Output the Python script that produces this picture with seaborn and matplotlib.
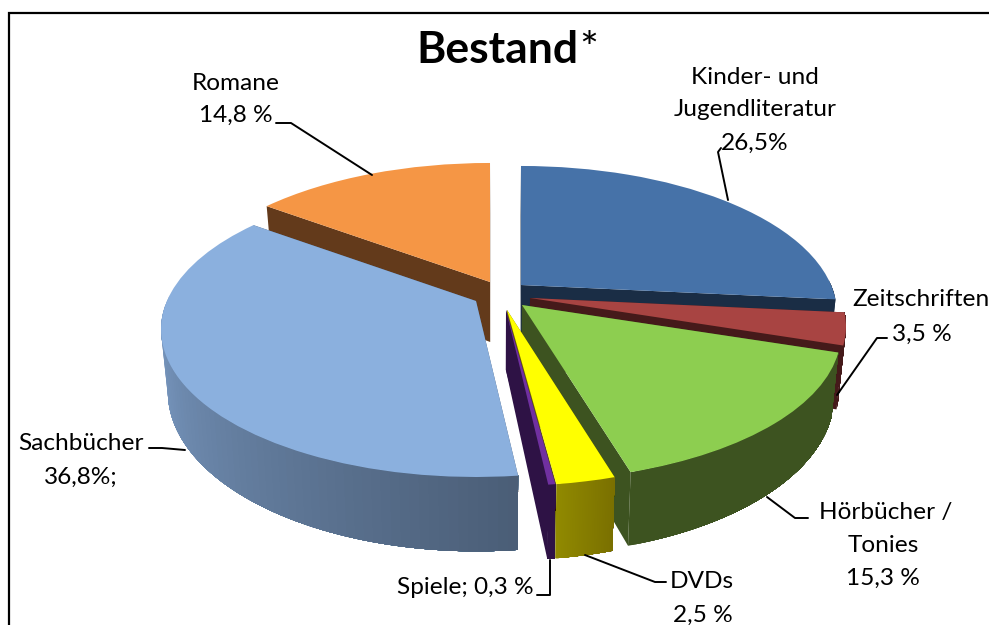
import numpy as np
import matplotlib
matplotlib.use("Agg")
import matplotlib.pyplot as plt
from matplotlib.transforms import Transform
import seaborn as sns

categories = ["Kinder- und Jugendliteratur", "Zeitschriften", "Hörbücher / Tonies", "DVDs", "Spiele", "Sachbücher", "Romane"]
values = [26.5, 3.5, 15.3, 2.5, 0.3, 36.8, 14.8]
top_colors = ["#4672A8", "#A84442", "#8DCE50", "#FFFF00", "#7030A0", "#8BB0DE", "#F59645"]
side_left = ["#1A2D45", "#451A1A", "#3D5320", "#918A00", "#2E1245", "#7E9FC9", "#633A1B"]
side_right = ["#1A2D45", "#451A1A", "#3D5320", "#7A7000", "#2E1245", "#4A5D76", "#633A1B"]
edge_colors = ["#1A2D45", "#451A1A", "#3D5320", "#6B6500", "#2E1245", "#4A5D76", "#633A1B"]

# layout of the exploded slices, in pixels
APEX = [(521, 285), (530, 298), (522, 305), (507, 310), (506, 310), (476, 301), (490, 282)]
RX = [310, 310, 313, 310, 310, 309, 310]
RY = 142
PERSP = 0.193
DEPTH = 60
DRAW_ORDER = [6, 0, 1, 5, 2, 3, 4]


class SliceProjection(Transform):
    input_dims = 2
    output_dims = 2

    def __init__(self, apex, rx):
        super().__init__()
        self.apex = apex
        self.rx = rx

    def transform_non_affine(self, values):
        values = np.asarray(values)
        u, v = values[:, 0], values[:, 1]
        s = 1 / (1 + PERSP * v)
        return np.column_stack([self.apex[0] + u * self.rx * s, self.apex[1] - v * RY * s])


def drop(points, u_v):
    # push the rim of the slice down by the thickness of the pie
    s = 1 / (1 + PERSP * u_v[:, 1])
    return np.column_stack([500 + (points[:, 0] - 500) * 0.98, points[:, 1] + DEPTH * s])


sns.set_theme(style="white")
plt.rcParams["font.family"] = ["Lato", "DejaVu Sans"]

fig = plt.figure(figsize=(9.89, 6.25), dpi=100)
ax = fig.add_axes([0, 0, 1, 1])
wedges, _ = ax.pie(values, colors=top_colors, startangle=90, counterclock=False,
                   wedgeprops=dict(linewidth=0))
ax.set_aspect("auto")
ax.set_xlim(0, 989)
ax.set_ylim(625, 0)
ax.axis("off")

for order, i in enumerate(DRAW_ORDER):
    w = wedges[i]
    proj = SliceProjection(APEX[i], RX[i])
    w.set_transform(proj + ax.transData)
    w.set_zorder(order * 3 + 3)

    # the two flat cut faces
    for angle in (w.theta1, w.theta2):
        uv = np.array([[0, 0], [np.cos(np.radians(angle)), np.sin(np.radians(angle))]])
        p = proj.transform_non_affine(uv)
        q = drop(p, uv)
        ax.fill([p[0, 0], p[1, 0], q[1, 0], q[0, 0]], [p[0, 1], p[1, 1], q[1, 1], q[0, 1]],
                color=edge_colors[i], lw=0, zorder=order * 3 + 1)

    # the rim, only the part that faces us
    angles = np.radians(np.linspace(w.theta1, w.theta2, 90))
    uv = np.column_stack([np.cos(angles), np.sin(angles)])
    uv = uv[uv[:, 1] < 0.05]
    if len(uv) < 2:
        continue
    uv = uv[np.argsort(uv[:, 0])]
    shades = sns.blend_palette([side_left[i], side_right[i]], len(uv))
    p = proj.transform_non_affine(uv)
    q = drop(p, uv)
    # each piece runs on to the end of the rim, so no seams show between them
    for k in range(len(uv) - 1):
        xs = np.concatenate([p[k:, 0], q[k:, 0][::-1]])
        ys = np.concatenate([p[k:, 1], q[k:, 1][::-1]])
        ax.fill(xs, ys, color=shades[k], lw=0, zorder=order * 3 + 2)

# frame, only left and top are inside the crop
ax.plot([9, 9, 989], [625, 13, 13], color="black", lw=1.6, zorder=40, solid_joinstyle="miter", clip_on=False)

# leader lines
leaders = [
    ([276, 291, 372], [123, 123, 175]),
    ([721, 718, 728], [148, 152, 200]),
    ([887, 877, 837], [338, 338, 395]),
    ([767, 795, 808], [497, 518, 518]),
    ([585, 655, 666], [555, 582, 582]),
    ([550, 550, 537], [560, 595, 595]),
    ([149, 162, 185], [448, 448, 450]),
]
for xs, ys in leaders:
    ax.plot(xs, ys, color="black", lw=1.4, zorder=41)

FS = 17.6
labels = [
    ("Romane", 236, 84), ("14,8 %", 236, 115),
    ("Kinder- und", 755, 78), ("Jugendliteratur", 755, 110), ("26,5%", 755, 143),
    ("Zeitschriften", 921, 299), ("3,5 %", 922, 334),
    ("Hörbücher /", 886, 512), ("Tonies", 883, 545), ("15,3 %", 883, 578),
    ("DVDs", 702, 582), ("2,5 %", 703, 615),
    ("Spiele; 0,3 %", 465, 588),
    ("Sachbücher", 81, 444), ("36,8%;", 81, 477),
]
for text, x, y in labels:
    ax.text(x, y, text, fontsize=FS, ha="center", va="center", color="black", zorder=42)

ax.text(578, 50, "Bestand", fontsize=32, fontweight="bold", ha="right", va="center", color="black", zorder=42)
ax.text(579, 50, "*", fontsize=32, ha="left", va="center", color="black", zorder=42)

fig.savefig("out.png", dpi=100)
